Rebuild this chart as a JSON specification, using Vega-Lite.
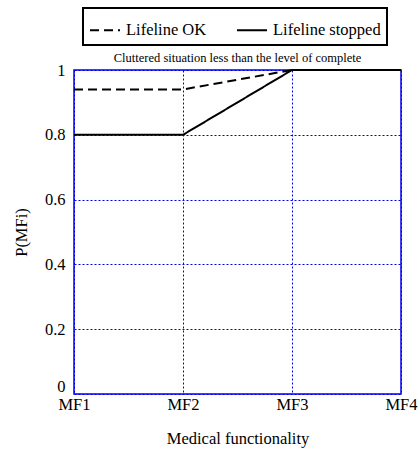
{
  "$schema": "https://vega.github.io/schema/vega-lite/v6.json",
  "width": 327,
  "height": 324,
  "autosize": "none",
  "padding": {"left": 74, "top": 70, "right": 19, "bottom": 59},
  "background": "white",
  "config": {
    "font": "Liberation Serif, Times New Roman, serif",
    "view": {"stroke": "#0000ee", "strokeWidth": 1.5},
    "legend": {"strokeWidth": 2, "labelFont": "Liberation Serif, Times New Roman, serif"},
    "axis": {"ticks": false, "domain": false, "labelFont": "Liberation Serif, Times New Roman, serif", "titleFont": "Liberation Serif, Times New Roman, serif", "labelColor": "black", "titleColor": "black", "labelFontWeight": "normal", "titleFontWeight": "normal", "gridColor": "#0000ee", "gridDash": [2, 2], "gridWidth": 1, "gridOpacity": 1}
  },
  "title": {"text": "Cluttered situation less than the level of complete", "fontSize": 12.5, "fontWeight": "normal", "font": "Liberation Serif, Times New Roman, serif", "anchor": "middle", "offset": -57, "color": "black"},
  "data": {"values": [
    {"mf": "MF1", "p": 0.94, "s": "Lifeline OK"},
    {"mf": "MF2", "p": 0.94, "s": "Lifeline OK"},
    {"mf": "MF3", "p": 1.0, "s": "Lifeline OK"},
    {"mf": "MF4", "p": 1.0, "s": "Lifeline OK"},
    {"mf": "MF1", "p": 0.8, "s": "Lifeline stopped"},
    {"mf": "MF2", "p": 0.8, "s": "Lifeline stopped"},
    {"mf": "MF3", "p": 1.0, "s": "Lifeline stopped"},
    {"mf": "MF4", "p": 1.0, "s": "Lifeline stopped"}
  ]},
  "mark": {"type": "line", "color": "black", "strokeWidth": 2, "clip": false},
  "encoding": {
    "x": {"field": "mf", "type": "ordinal", "scale": {"type": "point", "padding": 0}, "axis": {"title": "Medical functionality", "labelAngle": 0, "labelFontSize": 16.5, "labelPadding": 2, "titleFontSize": 16.5, "titlePadding": 18, "grid": true}},
    "y": {"field": "p", "type": "quantitative", "scale": {"domain": [0, 1], "nice": false}, "axis": {"title": "P(MFi)", "values": [0, 0.2, 0.4, 0.6, 0.8, 1], "format": "~g", "labelFontSize": 16.5, "labelPadding": 9, "labelFlush": false, "labelBaseline": {"condition": {"test": "datum.value == 0", "value": "bottom"}, "value": "middle"}, "titleFontSize": 16.5, "titlePadding": 15, "grid": true}},
    "strokeDash": {"field": "s", "type": "nominal", "scale": {"domain": ["Lifeline OK", "Lifeline stopped"], "range": [[9, 5], [1, 0]]}, "legend": {"title": null, "orient": "none", "legendX": 9, "legendY": -62, "direction": "horizontal", "strokeColor": "black", "fillColor": "white", "padding": 6, "labelFontSize": 16.5, "labelColor": "black", "symbolType": "stroke", "symbolSize": 900, "symbolStrokeWidth": 2, "symbolStrokeColor": "black", "columnPadding": 26, "labelOffset": 5}}
  }
}
